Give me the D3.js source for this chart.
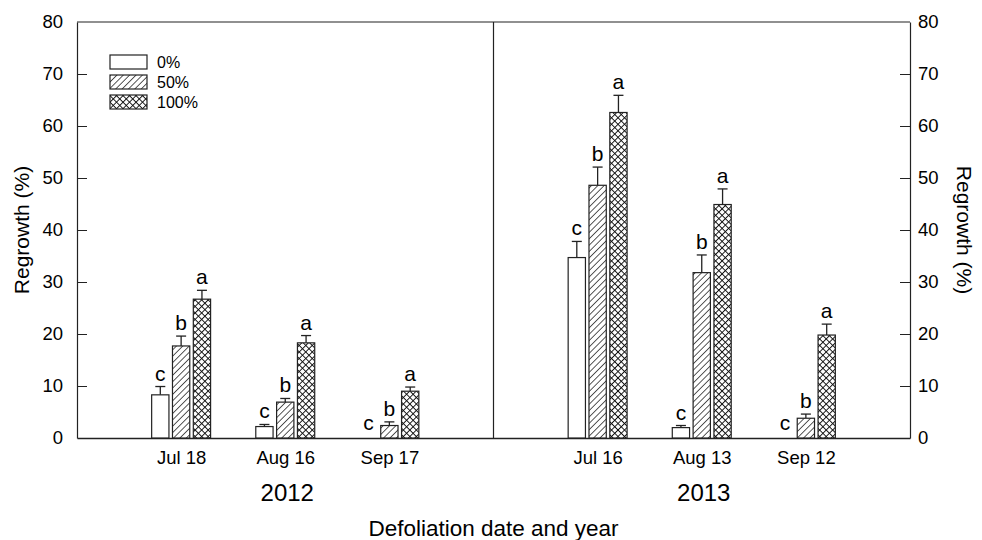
<!DOCTYPE html>
<html>
<head>
<meta charset="utf-8">
<script src="https://cdn.jsdelivr.net/npm/d3@7"></script>
<style>
  html, body { margin: 0; padding: 0; background: #fff; }
  svg text { font-family: Arial, "Liberation Sans", Helvetica, sans-serif; fill: #000; }
</style>
</head>
<body>
<svg id="chart" width="982" height="540"></svg>
<script>
// Defoliation dates (slot positions on the x scale) and year groups
const dates = ["Jul 18", "Aug 16", "Sep 17", "Jul 16", "Aug 13", "Sep 12"];
const slots = [1, 2, 3, 5, 6, 7];
const years = ["2012", "2013"];
const yearSlots = [2, 6];
const treatments = ["0%", "50%", "100%"];

// Mean regrowth (%) per treatment, one value per date
const regrowth0 = [8.3, 2.2, 0, 34.7, 2.0, 0];
const regrowth50 = [17.7, 6.9, 2.4, 48.6, 31.8, 3.8];
const regrowth100 = [26.7, 18.3, 9.0, 62.6, 44.9, 19.8];

// Standard error of each mean
const se0 = [1.6, 0.4, 0, 3.1, 0.4, 0];
const se50 = [1.9, 0.7, 0.7, 3.5, 3.4, 0.8];
const se100 = [1.7, 1.4, 0.8, 3.3, 3.0, 2.1];

// Significance letters
const letters0 = ["c", "c", "c", "c", "c", "c"];
const letters50 = ["b", "b", "b", "b", "b", "b"];
const letters100 = ["a", "a", "a", "a", "a", "a"];

const yTicks = [0, 10, 20, 30, 40, 50, 60, 70, 80];

const values = [regrowth0, regrowth50, regrowth100];
const errors = [se0, se50, se100];
const letters = [letters0, letters50, letters100];

const svg = d3.select("#chart");
const plotLeft = 77, plotRight = 910, plotTop = 22, plotBottom = 438;
const ink = "#222";

const x = d3.scaleLinear().domain([0, 8]).range([plotLeft, plotRight]);
const y = d3.scaleLinear().domain([0, 80]).range([plotBottom, plotTop]);

// Fill patterns: open, diagonal hatch, cross hatch
const defs = svg.append("defs");
const hatch = defs.append("pattern")
  .attr("id", "hatch").attr("patternUnits", "userSpaceOnUse")
  .attr("width", 4.5).attr("height", 4.5)
  .attr("patternTransform", "rotate(45)");
hatch.append("rect").attr("width", 4.5).attr("height", 4.5).attr("fill", "#fff");
hatch.append("line").attr("x1", 0).attr("y1", 0).attr("x2", 0).attr("y2", 4.5)
  .attr("stroke", "#111").attr("stroke-width", 1.4);

const cross = defs.append("pattern")
  .attr("id", "cross").attr("patternUnits", "userSpaceOnUse")
  .attr("width", 4.6).attr("height", 4.6)
  .attr("patternTransform", "rotate(45)");
cross.append("rect").attr("width", 4.6).attr("height", 4.6).attr("fill", "#fff");
cross.append("line").attr("x1", 0).attr("y1", 0).attr("x2", 0).attr("y2", 4.6)
  .attr("stroke", "#111").attr("stroke-width", 1.9);
cross.append("line").attr("x1", 0).attr("y1", 0).attr("x2", 4.6).attr("y2", 0)
  .attr("stroke", "#111").attr("stroke-width", 1.9);

const fills = ["#fff", "url(#hatch)", "url(#cross)"];

// Frame: top edge and the divider between years
svg.append("line").attr("x1", plotLeft).attr("x2", plotRight).attr("y1", plotTop).attr("y2", plotTop)
  .attr("stroke", ink).attr("stroke-width", 1.2);
svg.append("line").attr("x1", x(4)).attr("x2", x(4)).attr("y1", plotTop).attr("y2", plotBottom)
  .attr("stroke", ink).attr("stroke-width", 1.2);

// Left and right value axes with inward ticks
const yl = svg.append("g").attr("transform", `translate(${plotLeft},0)`)
  .call(d3.axisLeft(y).tickValues(yTicks).tickSize(-10).tickSizeOuter(0).tickPadding(14));
const yr = svg.append("g").attr("transform", `translate(${plotRight},0)`)
  .call(d3.axisRight(y).tickValues(yTicks).tickSize(-10).tickSizeOuter(0).tickPadding(8));
[yl, yr].forEach(g => {
  g.select(".domain").attr("stroke", ink).attr("stroke-width", 1.2);
  g.selectAll(".tick line").attr("stroke", ink);
  g.selectAll(".tick text").style("font-size", "18.5px").attr("fill", "#000");
  g.selectAll(".tick").filter(d => d === 0 || d === 80).select("line").remove();
});

// Date axis along the baseline
const xa = svg.append("g").attr("transform", `translate(0,${plotBottom})`)
  .call(d3.axisBottom(x).tickValues(slots).tickSize(0).tickPadding(13)
    .tickFormat((d, i) => dates[i]));
xa.select(".domain").attr("stroke", ink).attr("stroke-width", 1.4);
xa.selectAll(".tick text").style("font-size", "18.5px").attr("fill", "#000");

// Year labels
svg.selectAll("text.year").data(years).join("text")
  .attr("class", "year")
  .attr("x", (d, i) => x(yearSlots[i]) + 2)
  .attr("y", 501)
  .attr("text-anchor", "middle")
  .style("font-size", "24px")
  .text(d => d);

// Bars, error bars and letters for each treatment
const step = x(0.2) - x(0);
const barW = x(0.166) - x(0);
const capW = 10;

treatments.forEach((t, k) => {
  const rows = slots.map((s, i) => ({
    cx: x(s) + (k - 1) * step,
    v: values[k][i],
    e: errors[k][i],
    l: letters[k][i]
  }));
  const g = svg.append("g");
  const withBar = rows.filter(d => d.v > 0);

  g.selectAll("line.err").data(withBar).join("line")
    .attr("class", "err")
    .attr("x1", d => d.cx).attr("x2", d => d.cx)
    .attr("y1", d => y(d.v)).attr("y2", d => y(d.v + d.e))
    .attr("stroke", ink).attr("stroke-width", 1.3);
  g.selectAll("line.cap").data(withBar).join("line")
    .attr("class", "cap")
    .attr("x1", d => d.cx - capW / 2).attr("x2", d => d.cx + capW / 2)
    .attr("y1", d => y(d.v + d.e)).attr("y2", d => y(d.v + d.e))
    .attr("stroke", ink).attr("stroke-width", 1.3);
  g.selectAll("rect").data(withBar).join("rect")
    .attr("x", d => d.cx - barW / 2)
    .attr("width", barW)
    .attr("y", d => y(d.v))
    .attr("height", d => y(0) - y(d.v))
    .attr("fill", fills[k])
    .attr("stroke", ink).attr("stroke-width", 1.2);
  g.selectAll("text").data(rows).join("text")
    .attr("x", d => d.cx)
    .attr("y", d => y(d.v + d.e) - (d.v > 0 ? 6 : 8))
    .attr("text-anchor", "middle")
    .style("font-size", "21px")
    .text(d => d.l);
});

// Legend
const legend = svg.append("g").attr("transform", "translate(110,55)");
treatments.forEach((t, k) => {
  const row = legend.append("g").attr("transform", `translate(0,${k * 20})`);
  row.append("rect").attr("width", 37).attr("height", 14)
    .attr("fill", fills[k]).attr("stroke", ink).attr("stroke-width", 1.2);
  row.append("text").attr("x", 47).attr("y", 12.5)
    .style("font-size", "16px").text(t);
});

// Axis titles
svg.append("text")
  .attr("transform", `translate(29,${(plotTop + plotBottom) / 2}) rotate(-90)`)
  .attr("text-anchor", "middle")
  .style("font-size", "21px")
  .text("Regrowth (%)");
svg.append("text")
  .attr("transform", `translate(957,${(plotTop + plotBottom) / 2}) rotate(90)`)
  .attr("text-anchor", "middle")
  .style("font-size", "21px")
  .text("Regrowth (%)");
svg.append("text")
  .attr("x", x(4)).attr("y", 536)
  .attr("text-anchor", "middle")
  .style("font-size", "22.5px")
  .text("Defoliation date and year");
</script>
</body>
</html>
